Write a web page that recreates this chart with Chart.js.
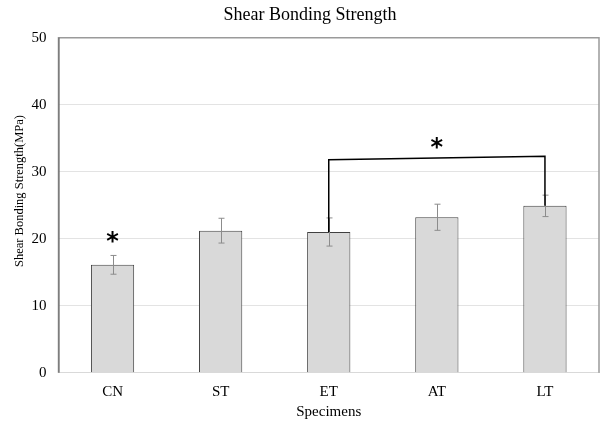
<!DOCTYPE html>
<html>
<head>
<meta charset="utf-8">
<script src="https://cdn.jsdelivr.net/npm/chart.js@4/dist/chart.umd.min.js"></script>
<style>
  html, body { margin: 0; padding: 0; background: #fff; }
  #wrap { width: 601px; height: 421px; }
</style>
</head>
<body>
<div id="wrap"><canvas id="chart"></canvas></div>
<script>
// Data
const specimens = ['CN', 'ST', 'ET', 'AT', 'LT'];
const strength = [16.1, 21.2, 21.0, 23.2, 24.9];
const strengthErr = [1.4, 1.85, 2.1, 1.95, 1.6];
const yTicks = [0, 10, 20, 30, 40, 50];
const chartTitle = 'Shear Bonding Strength';
const yTitle = 'Shear Bonding Strength(MPa)';

// Significance marks
const starCN = { label: 'CN', value: 20.1 };
const bracket = { from: 'ET', to: 'LT', fromTop: 31.8, toTop: 32.3, star: 34.1 };

const serif = '"Liberation Serif", "Times New Roman", serif';

// Error bars, frame, titles and significance marks
const extras = {
  id: 'extras',
  afterDatasetsDraw(chart) {
    const ctx = chart.ctx;
    const x = chart.scales.x;
    const y = chart.scales.y;
    const area = chart.chartArea;

    // error bars
    ctx.save();
    ctx.strokeStyle = '#8c8c8c';
    ctx.lineWidth = 1;
    for (let i = 0; i < specimens.length; i++) {
      const cx = Math.round(x.getPixelForValue(i)) + 0.5;
      const top = y.getPixelForValue(strength[i] + strengthErr[i]);
      const bot = y.getPixelForValue(strength[i] - strengthErr[i]);
      ctx.beginPath();
      ctx.moveTo(cx, top); ctx.lineTo(cx, bot);
      ctx.moveTo(cx - 3, top); ctx.lineTo(cx + 3, top);
      ctx.moveTo(cx - 3, bot); ctx.lineTo(cx + 3, bot);
      ctx.stroke();
    }
    ctx.restore();

    // plot frame
    ctx.save();
    ctx.strokeStyle = '#9a9a9a';
    ctx.lineWidth = 1.5;
    ctx.beginPath();
    ctx.moveTo(area.left, area.bottom);
    ctx.lineTo(area.left, area.top);
    ctx.lineTo(area.right, area.top);
    ctx.lineTo(area.right, area.bottom);
    ctx.stroke();
    ctx.strokeStyle = '#606060';
    ctx.lineWidth = 1;
    ctx.beginPath();
    ctx.moveTo(area.left + 0.5, area.bottom);
    ctx.lineTo(area.left + 0.5, area.top);
    ctx.stroke();
    ctx.restore();

    // bracket
    const i1 = specimens.indexOf(bracket.from);
    const i2 = specimens.indexOf(bracket.to);
    const x1 = x.getPixelForValue(i1);
    const x2 = x.getPixelForValue(i2);
    ctx.save();
    ctx.strokeStyle = '#000';
    ctx.lineWidth = 1.5;
    ctx.beginPath();
    ctx.moveTo(x1, y.getPixelForValue(strength[i1]));
    ctx.lineTo(x1, y.getPixelForValue(bracket.fromTop));
    ctx.lineTo(x2, y.getPixelForValue(bracket.toTop));
    ctx.lineTo(x2, y.getPixelForValue(strength[i2]));
    ctx.stroke();

    // stars
    ctx.fillStyle = '#000';
    ctx.font = 'bold 24px "DejaVu Sans", sans-serif';
    ctx.textAlign = 'center';
    ctx.textBaseline = 'middle';
    ctx.fillText('*', x.getPixelForValue(specimens.indexOf(starCN.label)), y.getPixelForValue(starCN.value) + 5);
    ctx.fillText('*', (x1 + x2) / 2, y.getPixelForValue(bracket.star) + 5);

    // chart title, centred a little right of the canvas centre like the original
    ctx.font = '18px ' + serif;
    ctx.fillText(chartTitle, 310, 15);

    // y axis title, sitting a bit above the axis middle like the original
    ctx.font = '12.5px ' + serif;
    ctx.translate(19.5, 191);
    ctx.rotate(-Math.PI / 2);
    ctx.fillText(yTitle, 0, 0);
    ctx.restore();
  }
};

new Chart(document.getElementById('chart'), {
  type: 'bar',
  data: {
    labels: specimens,
    datasets: [{
      label: chartTitle,
      data: strength,
      backgroundColor: '#d9d9d9',
      borderColor: '#404040',
      borderWidth: 1,
      borderSkipped: 'bottom',
      barPercentage: 0.4,
      categoryPercentage: 1
    }]
  },
  options: {
    responsive: true,
    maintainAspectRatio: false,
    animation: false,
    layout: { padding: { top: 37.7, right: 2, left: 0, bottom: 0 } },
    plugins: {
      legend: { display: false },
      tooltip: { enabled: false },
      title: { display: false }
    },
    scales: {
      x: {
        grid: { display: false, drawTicks: false },
        border: { color: '#d9d9d9', width: 1 },
        ticks: { color: '#000', font: { family: serif, size: 15 }, padding: 10 },
        title: {
          display: true,
          text: 'Specimens',
          color: '#000',
          font: { family: serif, size: 15 },
          padding: { top: 1, bottom: 0 }
        },
        afterFit(scale) { scale.height = 48.3; }
      },
      y: {
        min: 0,
        max: 50,
        afterBuildTicks(scale) { scale.ticks = yTicks.map(v => ({ value: v })); },
        grid: { color: '#e3e3e3', drawTicks: false },
        border: { display: false },
        ticks: { color: '#000', font: { family: serif, size: 15 }, padding: 12 },
        title: { display: false },
        afterFit(scale) { scale.width = 58.5; }
      }
    }
  },
  plugins: [extras]
});
</script>
</body>
</html>
